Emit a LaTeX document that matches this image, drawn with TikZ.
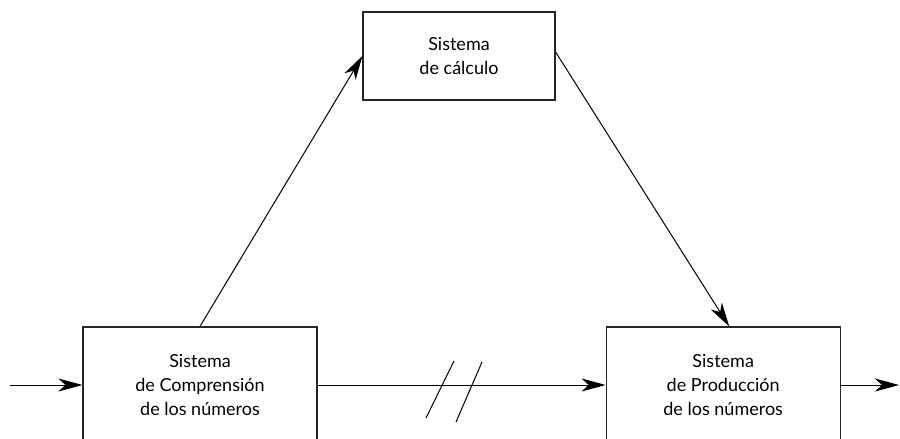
\documentclass[tikz,border=0pt]{standalone}
\usepackage{fontspec}
\setmainfont{Lato}
\usetikzlibrary{arrows.meta, positioning}

\begin{document}
\begin{tikzpicture}[
	x=0.5pt, y=-0.5pt,
	system/.style={rectangle, minimum width=117pt, minimum height=58pt, text centered, align=center, draw=black!85, line width=0.6pt, font=\fontsize{9}{12}\selectfont},
	arrow/.style={line width=0.5pt, ->, >={Stealth[length=12pt, width=6.5pt, inset=3.5pt]}},
	slash/.style={line width=0.5pt}
	]
	\useasboundingbox (0,0) rectangle (900,439);
	
	% sistemas
	\node (comp) [system] at (200,385) {Sistema\\ de Comprensión\\ de los números};
	\node (prod) [system, right=144pt of comp] {Sistema\\ de Producción\\ de los números};
	\node (calc) [system, minimum width=96pt, minimum height=44pt] at (459,56) {Sistema\\ de cálculo};
	
	% entrada y salida
	\coordinate (in) at (10,385);
	\coordinate (out) at (899,385);
	
	% conexiones
	\draw [arrow] (in) -- (comp);
	\draw [arrow] (comp) -- (prod);
	\draw [arrow] (prod) -- (out);
	\draw [arrow] (comp.north) -- (calc.west);
	\draw [arrow] ([yshift=2pt]calc.east) -- ([xshift=3pt]prod.north);
	
	% doble barra
	\draw [slash] (426,418) -- (454,361);
	\draw [slash] (456,422) -- (482,362);
	
\end{tikzpicture}
\end{document}
